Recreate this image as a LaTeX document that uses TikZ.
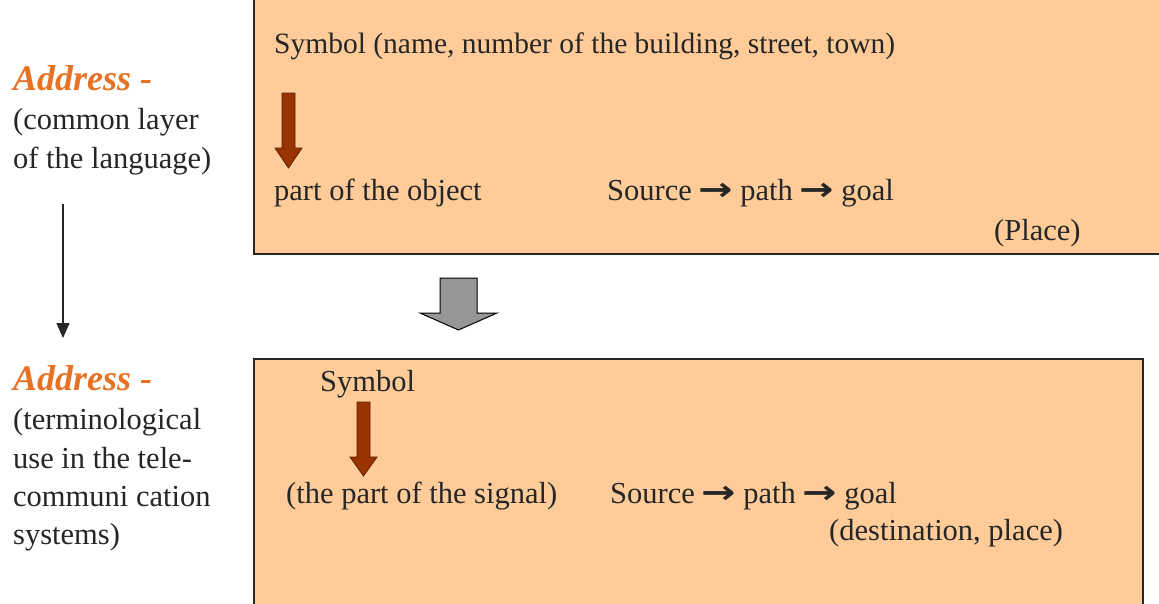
\documentclass[tikz,border=0pt]{standalone}
\usepackage{fontspec}
\usepackage{graphicx}
\setmainfont{Liberation Serif}
\newfontfamily\arrowfont{DejaVu Sans}
\usetikzlibrary{arrows.meta}
\definecolor{peach}{RGB}{255,204,153}
\definecolor{addr}{RGB}{232,114,36}
\definecolor{brownarr}{RGB}{153,51,0}
\definecolor{brownedge}{RGB}{90,30,0}
\definecolor{grayarr}{RGB}{150,150,150}
\newcommand{\ar}{\hspace{7pt}{\arrowfont\bfseries\scalebox{1.35}[1.05]{→}}\hspace{7pt}}
\tikzset{
  box/.style={draw=black!85, line width=1.6pt, fill=peach},
  txt/.style={anchor=base west, inner sep=0pt, font=\fontsize{30.5}{32}\selectfont, text=black!85},
  addrtxt/.style={anchor=base west, inner sep=0pt, font=\fontsize{36}{36}\selectfont\bfseries\itshape, text=addr},
  bluntarr/.style={fill=brownarr, draw=brownedge, line width=0.8pt},
  grayblock/.style={fill=grayarr, draw=black, line width=1pt},
  thinarr/.style={draw=black!85, line width=1.4pt, -{Triangle[length=15pt,width=13pt]}}
}
\begin{document}
\begin{tikzpicture}[x=1pt,y=-1pt]
\useasboundingbox (0,0) rectangle (1159,603);
\fill[white] (0,0) rectangle (1159,603);
\clip (0,0) rectangle (1159,603);
% boxes
\draw[box] (254,-10) rectangle (1170,254);
\draw[box] (254,359) rectangle (1143,620);
% left labels
\node[addrtxt] (a1) at (13,90) {Address -};
\node[txt] (a1l1) at (13,129) {(common layer};
\node[txt] (a1l2) at (13,168) {of the language)};
\node[addrtxt] (a2) at (13,390) {Address -};
\node[txt] (a2l1) at (13,429) {(terminological};
\node[txt] (a2l2) at (13,468) {use in the tele-};
\node[txt] (a2l3) at (13,506) {communi cation};
\node[txt] (a2l4) at (13,544) {systems)};
\coordinate (l1) at (63,204);
\coordinate (l2) at (63,338);
\draw[thinarr] (l1) -- (l2);
% top box text
\node[txt, font=\fontsize{29.5}{32}\selectfont] (t1) at (274,53) {Symbol (name, number of the building, street, town)};
\node[txt] (t2) at (274,200) {part of the object};
\node[txt] (t3) at (607,200) {Source\ar path\ar goal};
\node[txt] (t4) at (994,240) {(Place)};
\draw[bluntarr] (282,93) -- (295,93) -- (295,148) -- (302,148) -- (288.5,168) -- (275,148) -- (282,148) -- cycle;
% gray arrow
\draw[grayblock] (440,278) -- (477,278) -- (477,313) -- (497,313) -- (458.5,330) -- (420,313) -- (440,313) -- cycle;
% bottom box text
\node[txt] (b1) at (320,391) {Symbol};
\node[txt] (b2) at (286,503) {(the part of the signal)};
\node[txt] (b3) at (610,503) {Source\ar path\ar goal};
\node[txt] (b4) at (829,540) {(destination, place)};
\draw[bluntarr] (357,402) -- (370,402) -- (370,457) -- (377,457) -- (363.5,476) -- (350,457) -- (357,457) -- cycle;
\end{tikzpicture}
\end{document}
